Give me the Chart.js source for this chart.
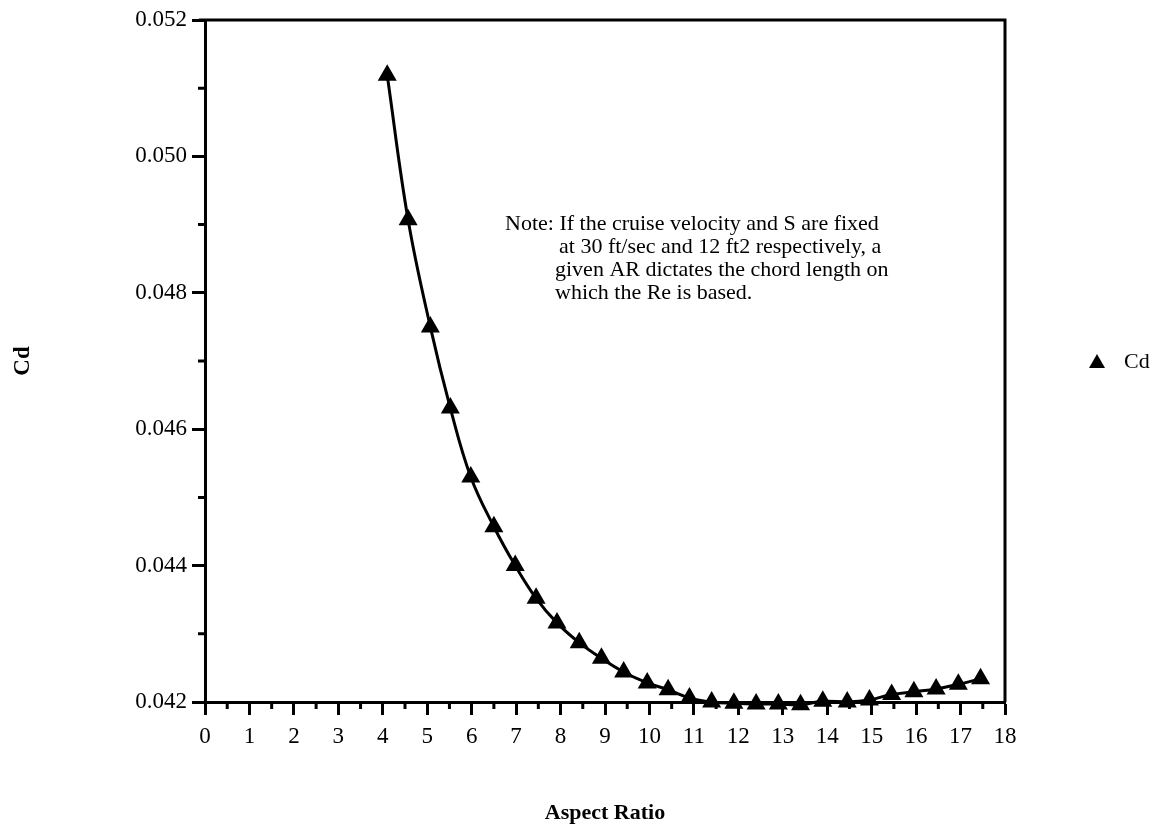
<!DOCTYPE html>
<html>
<head>
<meta charset="utf-8">
<script src="https://cdn.jsdelivr.net/npm/chart.js@4.4.0/dist/chart.umd.min.js"></script>
<style>
html, body { margin: 0; padding: 0; background: #fff; }
#wrap { width: 1166px; height: 835px; }
</style>
</head>
<body>
<div id="wrap"><canvas id="cdChart"></canvas></div>
<script>
// Aspect ratio of each run (x)
var aspectRatio = [4.1, 4.57, 5.07, 5.52, 5.98, 6.5, 6.98, 7.45, 7.92, 8.42,
                   8.92, 9.42, 9.95, 10.42, 10.9, 11.4, 11.9, 12.4, 12.9, 13.4,
                   13.9, 14.45, 14.95, 15.45, 15.95, 16.45, 16.95, 17.45];
// Drag coefficient
var cdValues = [0.05119, 0.04907, 0.04750, 0.04631, 0.04530, 0.04457, 0.04400, 0.04352, 0.04316, 0.04287,
                0.04264, 0.04244, 0.04228, 0.04218, 0.04206, 0.04200, 0.04198, 0.04197, 0.04197, 0.04196,
                0.04201, 0.04200, 0.04203, 0.04211, 0.04215, 0.04219, 0.04226, 0.04234];
// Axis range
var xMin = 0, xMax = 18;
var yMin = 0.042, yMax = 0.052;
var seriesName = 'Cd';
var noteLines = [
  'Note: If the cruise velocity and S are fixed',
  'at 30 ft/sec and 12 ft2 respectively, a',
  'given AR dictates the chord length on',
  'which the Re is based.'
];

const SERIF = '"Liberation Serif", "DejaVu Serif", serif';
const INK = '#000';

var points = [];
for (var i = 0; i < aspectRatio.length; i++) {
  points.push({ x: aspectRatio[i], y: cdValues[i] });
}

// frame, short ticks, note and legend
var extras = {
  id: 'extras',
  afterDraw: function(chart) {
    var c = chart.ctx, a = chart.chartArea;
    var sx = chart.scales.x, sy = chart.scales.y;
    c.save();
    c.strokeStyle = INK;
    c.lineWidth = 3;
    // top and right side of the box
    c.beginPath();
    c.moveTo(a.left - 6, a.top);
    c.lineTo(a.right, a.top);
    c.lineTo(a.right, a.bottom);
    c.stroke();
    // minor ticks
    c.beginPath();
    for (var k = 1; k < 10; k += 2) {
      var py = sy.getPixelForValue(yMin + k * 0.001);
      c.moveTo(a.left, py);
      c.lineTo(a.left - 7, py);
    }
    for (var h = 0.5; h < xMax; h += 1) {
      var px = sx.getPixelForValue(h);
      c.moveTo(px, a.bottom);
      c.lineTo(px, a.bottom + 7);
    }
    c.stroke();
    // note
    c.fillStyle = INK;
    c.font = '22px ' + SERIF;
    c.textBaseline = 'middle';
    c.textAlign = 'left';
    var nx = sx.getPixelForValue(6.75);
    var ny = sy.getPixelForValue(0.0490);
    var indent = [0, 54, 50, 50];
    for (var n = 0; n < noteLines.length; n++) {
      c.fillText(noteLines[n], nx + indent[n], ny + n * 23);
    }
    // legend, level with the middle of the plot
    var lx = a.right + 92, ly = (a.top + a.bottom) / 2 + 1;
    c.beginPath();
    c.moveTo(lx, ly - 8);
    c.lineTo(lx + 8, ly + 6);
    c.lineTo(lx - 8, ly + 6);
    c.closePath();
    c.fill();
    c.font = '22px ' + SERIF;
    c.fillText(seriesName, lx + 27, ly);
    c.restore();
  }
};

var cdChart = new Chart(document.getElementById('cdChart'), {
  type: 'line',
  data: {
    datasets: [{
      label: seriesName,
      data: points,
      borderColor: INK,
      backgroundColor: INK,
      borderWidth: 3,
      tension: 0.4,
      clip: false,
      pointStyle: 'triangle',
      pointRadius: 8,
      pointBackgroundColor: INK,
      pointBorderColor: INK,
      fill: false
    }]
  },
  options: {
    responsive: true,
    maintainAspectRatio: false,
    animation: false,
    layout: { padding: { top: 20, right: 161, left: 0, bottom: 0 } },
    plugins: { legend: { display: false }, tooltip: { enabled: false } },
    scales: {
      x: {
        type: 'linear',
        min: xMin,
        max: xMax,
        afterFit: function(s) { s.height = 133; },
        border: { display: true, color: INK, width: 3 },
        grid: { drawOnChartArea: false, drawTicks: true, tickLength: 13, tickWidth: 3, tickColor: INK },
        ticks: {
          stepSize: 1,
          autoSkip: false,
          maxRotation: 0,
          padding: 8,
          color: INK,
          font: { family: SERIF, size: 23 }
        },
        title: {
          display: true,
          text: 'Aspect Ratio',
          color: INK,
          padding: { bottom: 8 },
          font: { family: SERIF, size: 22, weight: 'bold' }
        }
      },
      y: {
        type: 'linear',
        min: yMin,
        max: yMax,
        afterFit: function(s) { s.width = 205; },
        border: { display: true, color: INK, width: 3 },
        grid: { drawOnChartArea: false, drawTicks: true, tickLength: 13, tickWidth: 3, tickColor: INK },
        ticks: {
          stepSize: 0.002,
          autoSkip: false,
          padding: 5,
          color: INK,
          font: { family: SERIF, size: 23 },
          callback: function(v) { return v.toFixed(3); }
        },
        title: {
          display: true,
          text: 'Cd',
          color: INK,
          padding: { top: 9 },
          font: { family: SERIF, size: 23, weight: 'bold' }
        }
      }
    }
  },
  plugins: [extras]
});
</script>
</body>
</html>
